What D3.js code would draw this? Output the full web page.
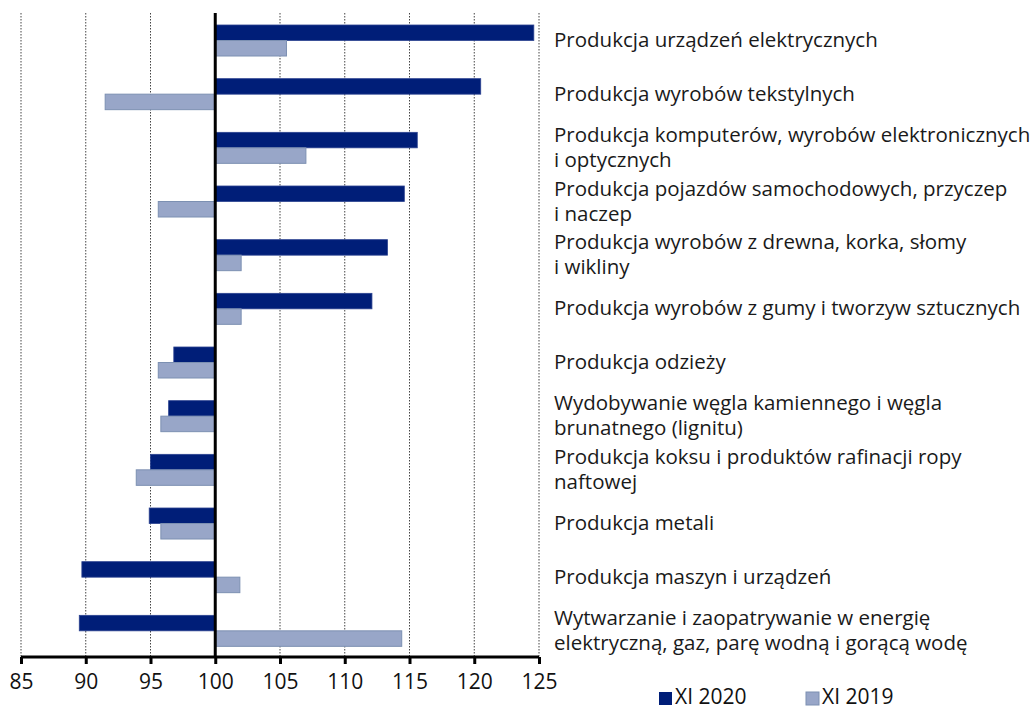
<!DOCTYPE html>
<html>
<head>
<meta charset="utf-8">
<script src="https://cdn.jsdelivr.net/npm/d3@7"></script>
<style>
  body { margin: 0; background: #fff; }
  svg { display: block; }
  .lbl { font-family: "Open Sans", "Noto Sans", sans-serif; font-size: 20.5px; fill: #1a1a1a; }
  .tick text { font-family: "Open Sans", sans-serif; font-size: 21px; fill: #111; }
  .legend text { font-family: "Open Sans", sans-serif; font-size: 21px; fill: #111; }
</style>
</head>
<body>
<div id="chart"></div>
<script>

// categories (each entry = lines of the label)
var categories = [
	["Produkcja urządzeń elektrycznych"],
	["Produkcja wyrobów tekstylnych"],
	["Produkcja komputerów, wyrobów elektronicznych", "i optycznych"],
	["Produkcja pojazdów samochodowych, przyczep", "i naczep"],
	["Produkcja wyrobów z drewna, korka, słomy", "i wikliny"],
	["Produkcja wyrobów z gumy i tworzyw sztucznych"],
	["Produkcja odzieży"],
	["Wydobywanie węgla kamiennego i węgla", "brunatnego (lignitu)"],
	["Produkcja koksu i produktów rafinacji ropy", "naftowej"],
	["Produkcja metali"],
	["Produkcja maszyn i urządzeń"],
	["Wytwarzanie i zaopatrywanie w energię", "elektryczną, gaz, parę wodną i gorącą wodę"]
];

var xi2020 = [124.6, 120.5, 115.6, 114.6, 113.3, 112.1, 96.8, 96.4, 95.0, 94.9, 89.7, 89.5];
var xi2019 = [105.5, 91.5, 107.0, 95.6, 102.0, 102.0, 95.6, 95.8, 93.9, 95.8, 101.9, 114.4];

var xTicks = [85, 90, 95, 100, 105, 110, 115, 120, 125];
var seriesNames = ["XI 2020", "XI 2019"];

var W = 1036, H = 709;
var svg = d3.select("#chart").append("svg").attr("width", W).attr("height", H);

var x = d3.scaleLinear().domain([85, 125]).range([21, 539]);
var y = d3.scaleBand().domain(d3.range(categories.length)).range([13, 657]);

// gridlines
svg.append("g").selectAll("line")
	.data(xTicks.filter(function(d) { return d != 100; }))
	.enter().append("line")
	.attr("x1", function(d) { return x(d); })
	.attr("x2", function(d) { return x(d); })
	.attr("y1", 13).attr("y2", 657)
	.attr("stroke", "#444")
	.attr("stroke-width", 1)
	.attr("stroke-dasharray", "1.5,1.5");

var barH = 15.5;

// XI 2020 bars
svg.append("g").selectAll("rect")
	.data(xi2020)
	.enter().append("rect")
	.attr("x", function(d) { return x(Math.min(d, 100)); })
	.attr("width", function(d) { return Math.abs(x(d) - x(100)); })
	.attr("y", function(d, i) { return y(i) + 12; })
	.attr("height", barH)
	.attr("fill", "#001e78")
	.attr("stroke", "#2b4290")
	.attr("stroke-width", 0.8);

// XI 2019 bars
svg.append("g").selectAll("rect")
	.data(xi2019)
	.enter().append("rect")
	.attr("x", function(d) { return x(Math.min(d, 100)); })
	.attr("width", function(d) { return Math.abs(x(d) - x(100)); })
	.attr("y", function(d, i) { return y(i) + 12 + barH; })
	.attr("height", barH)
	.attr("fill", "#98a6c8")
	.attr("stroke", "#7c90b2")
	.attr("stroke-width", 1);

// zero line at 100
svg.append("line")
	.attr("x1", x(100)).attr("x2", x(100))
	.attr("y1", 13).attr("y2", 657)
	.attr("stroke", "#000").attr("stroke-width", 3);

// x axis
var xAxis = svg.append("g")
	.attr("transform", "translate(0,657)")
	.call(d3.axisBottom(x).tickValues(xTicks).tickSize(7).tickPadding(10));
xAxis.select(".domain").attr("stroke", "#000").attr("stroke-width", 3).attr("d", "M" + x(85) + ",0H" + x(125));
xAxis.selectAll(".tick line").attr("stroke", "#000").attr("stroke-width", 3);

// category labels
var lineH = 25;
var labels = svg.append("g").selectAll("text")
	.data(categories)
	.enter().append("text")
	.attr("class", "lbl")
	.attr("x", 554)
	.attr("y", function(d, i) { return y(i) + y.bandwidth() / 2 - (d.length - 1) * lineH / 2; });

labels.selectAll("tspan")
	.data(function(d) { return d; })
	.enter().append("tspan")
	.attr("x", 554)
	.attr("dy", function(d, i) { return i == 0 ? "0.35em" : lineH; })
	.text(function(d) { return d; });

// legend
var legend = svg.append("g").attr("class", "legend");
var legendX = [659, 806];
var legendCol = ["#001e78", "#98a6c8"];
seriesNames.forEach(function(name, i) {
	legend.append("rect")
		.attr("x", legendX[i]).attr("y", 692)
		.attr("width", 13).attr("height", 13)
		.attr("fill", legendCol[i])
		.attr("stroke", i == 1 ? "#7c90b2" : "none");
	legend.append("text")
		.attr("x", legendX[i] + 16).attr("y", 704)
		.text(name);
});

</script>
</body>
</html>
